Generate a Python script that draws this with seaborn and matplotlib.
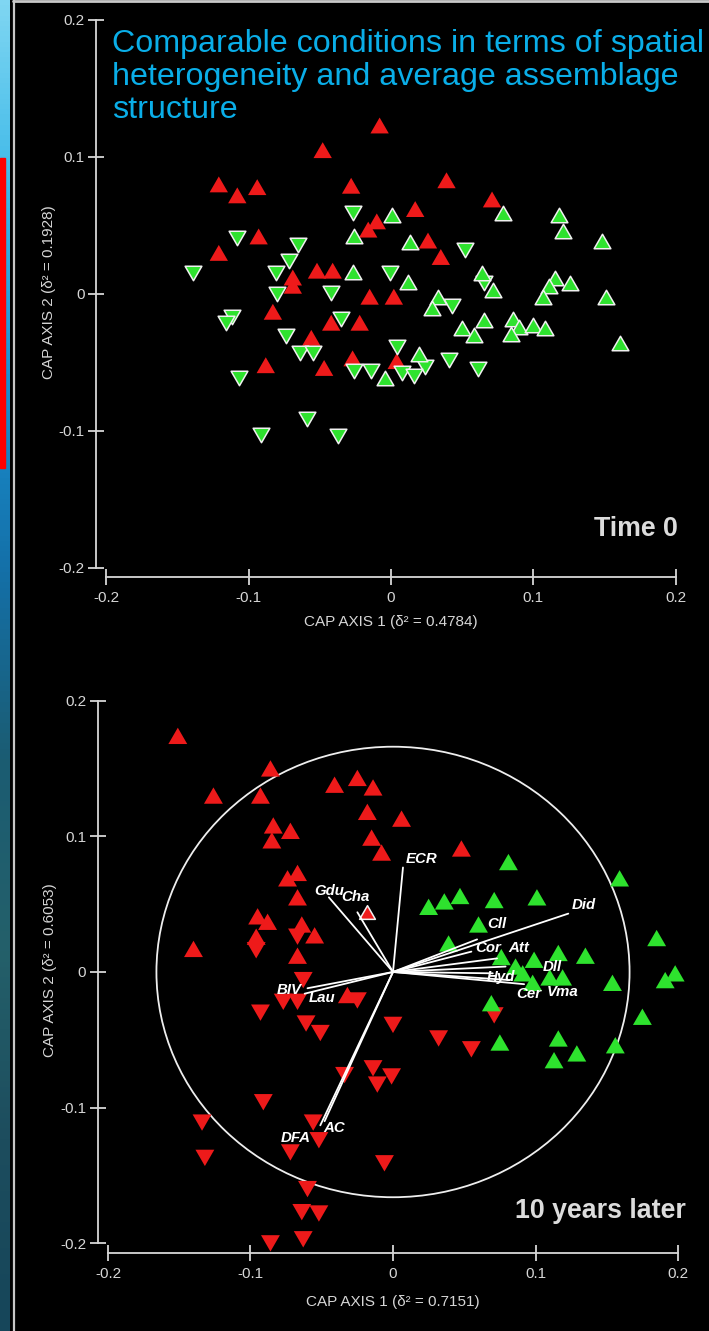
import numpy as np
import pandas as pd
import matplotlib
matplotlib.use("Agg")
import matplotlib.pyplot as plt
import seaborn as sns
from matplotlib.patches import Ellipse, Rectangle
from matplotlib.lines import Line2D
from matplotlib.path import Path
from matplotlib.colors import LinearSegmentedColormap

# ---------------- DATA ----------------
# Time 0 panel
t0_red_up_x = [-0.008, -0.048, -0.121, -0.108, -0.094, -0.028, 0.039, 0.017, 0.071, -0.010,
               -0.016, -0.093, 0.026, -0.121, 0.035, -0.052, -0.041, -0.069, -0.069, -0.015,
               0.002, -0.083, -0.042, -0.022, -0.056, -0.088, -0.047, -0.027, 0.004]
t0_red_up_y = [0.123, 0.105, 0.080, 0.072, 0.078, 0.079, 0.083, 0.062, 0.069, 0.053,
               0.047, 0.042, 0.039, 0.030, 0.027, 0.017, 0.017, 0.012, 0.006, -0.002,
               -0.002, -0.013, -0.021, -0.021, -0.032, -0.052, -0.054, -0.047, -0.049]

t0_green_down_x = [-0.027, -0.108, -0.065, -0.072, -0.139, -0.081, -0.001, -0.080, -0.042, -0.112,
                   -0.116, -0.035, -0.074, -0.064, -0.055, 0.004, -0.026, -0.014, -0.107, 0.024,
                   0.008, 0.016, 0.052, 0.065, 0.043, 0.041, 0.061, -0.059, -0.091, -0.037]
t0_green_down_y = [0.059, 0.041, 0.036, 0.024, 0.015, 0.015, 0.015, 0.000, 0.001, -0.017,
                   -0.021, -0.018, -0.031, -0.043, -0.043, -0.039, -0.056, -0.056, -0.061, -0.053,
                   -0.058, -0.060, 0.032, 0.008, -0.009, -0.048, -0.055, -0.091, -0.103, -0.104]

t0_green_up_x = [0.001, -0.026, 0.013, -0.027, 0.012, 0.033, 0.029, 0.020, -0.004, 0.079,
                 0.118, 0.121, 0.148, 0.064, 0.115, 0.126, 0.111, 0.072, 0.107, 0.151,
                 0.065, 0.086, 0.050, 0.058, 0.090, 0.100, 0.108, 0.084, 0.161]
t0_green_up_y = [0.058, 0.042, 0.038, 0.016, 0.009, -0.002, -0.010, -0.044, -0.061, 0.059,
                 0.058, 0.046, 0.039, 0.015, 0.012, 0.008, 0.006, 0.003, -0.002, -0.002,
                 -0.019, -0.018, -0.025, -0.030, -0.024, -0.023, -0.025, -0.029, -0.036]

# 10 years later panel
t10_red_up_x = [-0.151, -0.086, -0.126, -0.093, -0.041, -0.025, -0.014, -0.018, 0.006, -0.084,
                -0.072, -0.085, -0.015, -0.008, 0.048, -0.074, -0.067, -0.067, -0.095, -0.088,
                -0.064, -0.055, -0.140, -0.096, -0.067, -0.032]
t10_red_up_y = [0.174, 0.150, 0.130, 0.130, 0.138, 0.143, 0.136, 0.118, 0.113, 0.108,
                0.104, 0.097, 0.099, 0.088, 0.091, 0.069, 0.073, 0.055, 0.041, 0.037,
                0.035, 0.027, 0.017, 0.026, 0.012, -0.017]

t10_red_down_x = [-0.096, -0.067, -0.063, -0.077, -0.067, -0.025, -0.093, -0.061, -0.051, 0.000,
                  0.032, 0.055, 0.071, -0.034, -0.014, -0.001, -0.011, -0.091, -0.134, -0.056,
                  -0.052, -0.072, -0.132, -0.006, -0.060, -0.064, -0.052, -0.086, -0.063]
t10_red_down_y = [0.016, 0.026, -0.006, -0.022, -0.022, -0.021, -0.030, -0.038, -0.045, -0.039,
                  -0.049, -0.057, -0.032, -0.076, -0.071, -0.077, -0.083, -0.096, -0.111, -0.111,
                  -0.124, -0.133, -0.137, -0.141, -0.160, -0.177, -0.178, -0.200, -0.197]

t10_red_edge_x = [-0.018]
t10_red_edge_y = [0.044]

t10_green_up_x = [0.081, 0.159, 0.025, 0.036, 0.047, 0.071, 0.101, 0.060, 0.039, 0.076,
                  0.086, 0.091, 0.099, 0.116, 0.135, 0.110, 0.119, 0.098, 0.154, 0.185,
                  0.191, 0.198, 0.175, 0.069, 0.075, 0.116, 0.113, 0.129, 0.156]
t10_green_up_y = [0.081, 0.069, 0.048, 0.052, 0.056, 0.053, 0.055, 0.035, 0.021, 0.011,
                  0.004, -0.001, 0.009, 0.014, 0.012, -0.004, -0.004, -0.008, -0.008, 0.025,
                  -0.006, -0.001, -0.033, -0.023, -0.052, -0.049, -0.065, -0.060, -0.054]

# species vectors (10 years later)
vec_names = ["ECR", "Gdu", "Cha", "BIV", "Lau", "DFA", "AC", "Did",
             "Cll", "Cor", "Att", "Dll", "Hyd", "Cer", "Vma"]
vec_x = [0.007, -0.045, -0.025, -0.062, -0.060, -0.051, -0.048, 0.123,
         0.059, 0.055, 0.073, 0.079, 0.082, 0.092, 0.070]
vec_y = [0.077, 0.055, 0.044, -0.016, -0.012, -0.113, -0.110, 0.043,
         0.024, 0.015, 0.010, 0.004, -0.006, -0.009, -0.001]
vec_lab_x = [0.020, -0.045, -0.026, -0.073, -0.050, -0.068, -0.041, 0.134,
             0.073, 0.067, 0.088, 0.112, 0.076, 0.095, 0.119]
vec_lab_y = [0.083, 0.060, 0.055, -0.013, -0.019, -0.122, -0.115, 0.049,
             0.035, 0.018, 0.018, 0.004, -0.004, -0.016, -0.015]
circle_radius = 0.166

tick_vals = [-0.2, -0.1, 0, 0.1, 0.2]
tick_labels = ["-0.2", "-0.1", "0", "0.1", "0.2"]

title_lines = ["Comparable conditions in terms of spatial",
               "heterogeneity and average assemblage",
               "structure"]
t0_xlabel = "CAP AXIS 1 (δ² = 0.4784)"
t0_ylabel = "CAP AXIS 2 (δ² = 0.1928)"
t10_xlabel = "CAP AXIS 1 (δ² = 0.7151)"
t10_ylabel = "CAP AXIS 2 (δ² = 0.6053)"

# ---------------- STYLE ----------------
sns.set_style("dark")
plt.rcParams['font.family'] = ['Liberation Sans', 'DejaVu Sans']

W, H = 709, 1331
fig = plt.figure(figsize=(W / 100, H / 100), dpi=100, facecolor="black")

RED = "#ee1a1a"
GREEN = "#2ee22e"
AXC = "#d6d6d6"

tri_up = Path([(-1, -0.866), (1, -0.866), (0, 0.866), (-1, -0.866)],
              [Path.MOVETO, Path.LINETO, Path.LINETO, Path.CLOSEPOLY])
tri_down = Path([(-1, 0.866), (1, 0.866), (0, -0.866), (-1, 0.866)],
                [Path.MOVETO, Path.LINETO, Path.LINETO, Path.CLOSEPOLY])


def px_axes(left, top, right, bottom):
    return fig.add_axes([left / W, 1 - bottom / H, (right - left) / W, (bottom - top) / H])


def style(ax, xlab, ylab, xpad):
    ax.set_facecolor("black")
    ax.grid(False)
    for s in ["top", "right"]:
        ax.spines[s].set_visible(False)
    for s in ["left", "bottom"]:
        ax.spines[s].set_visible(True)
        ax.spines[s].set_color(AXC)
        ax.spines[s].set_linewidth(1.3)
        ax.spines[s].set_bounds(-0.2, 0.2)
    ax.set_xticks(tick_vals)
    ax.set_yticks(tick_vals)
    ax.set_xticklabels(tick_labels)
    ax.set_yticklabels(tick_labels)
    ax.tick_params(axis="both", which="major", bottom=True, left=True, top=False, right=False,
                   direction="inout", length=12, width=1.3, color=AXC,
                   labelcolor=AXC, labelsize=11)
    ax.tick_params(axis="y", pad=2.5)
    ax.tick_params(axis="x", pad=4)
    ax.set_xlabel(xlab, color=AXC, fontsize=11, labelpad=xpad)
    ax.set_ylabel(ylab, color=AXC, fontsize=11, labelpad=2)


def scat(ax, x, y, marker, color, edge=None, s=150, z=3):
    df = pd.DataFrame({"x": x, "y": y})
    sns.scatterplot(data=df, x="x", y="y", ax=ax, marker=marker, color=color,
                    s=s, edgecolor=edge if edge else "none",
                    linewidth=1.1 if edge else 0, zorder=z, legend=False)


# ---- Top panel ----
ax1 = px_axes(96.4, 6.3, 685.6, 577)
ax1.set_xlim(-0.207, 0.207)
ax1.set_ylim(-0.2066, 0.21)
scat(ax1, t0_red_up_x, t0_red_up_y, tri_up, RED, s=175)
scat(ax1, t0_green_down_x, t0_green_down_y, tri_down, GREEN, edge="#f0f0f0", s=145)
scat(ax1, t0_green_up_x, t0_green_up_y, tri_up, GREEN, edge="#f0f0f0", s=145)
style(ax1, t0_xlabel, t0_ylabel, 7)
ax1.text(0.2015, -0.1765, "Time 0", color="#dcdcdc", fontsize=19.3, fontweight="bold",
         ha="right", va="baseline")

# ---- Bottom panel ----
ax2 = px_axes(98, 687, 688, 1253)
ax2.set_xlim(-0.207, 0.207)
ax2.set_ylim(-0.2071, 0.21)
ax2.add_patch(Ellipse((0, 0), 2 * circle_radius, 2 * circle_radius, fill=False,
                      edgecolor="#eeeeee", linewidth=1.3, zorder=2))
scat(ax2, t10_red_up_x, t10_red_up_y, tri_up, RED, s=185)
scat(ax2, t10_red_down_x, t10_red_down_y, tri_down, RED, s=185)
scat(ax2, t10_green_up_x, t10_green_up_y, tri_up, GREEN, s=185)
scat(ax2, t10_red_edge_x, t10_red_edge_y, tri_up, RED, edge="#f0f0f0", s=130)
for vx, vy in zip(vec_x, vec_y):
    ax2.plot([0, vx], [0, vy], color="white", linewidth=1.3, zorder=4)
for name, lx, ly in zip(vec_names, vec_lab_x, vec_lab_y):
    ax2.text(lx, ly, name, color="white", fontsize=10.8, fontweight="bold",
             fontstyle="italic", ha="center", va="center", zorder=5)
style(ax2, t10_xlabel, t10_ylabel, 10)
ax2.text(0.2055, -0.1815, "10 years later", color="#dcdcdc", fontsize=19.3,
         fontweight="bold", ha="right", va="baseline")

# ---- Title ----
for i, line in enumerate(title_lines):
    fig.text(112 / W, 1 - (52 + 33 * i) / H, line, color="#0aaee8", fontsize=23.25,
             ha="left", va="baseline")

# ---- Left decorative strip / borders ----
strip = fig.add_axes([0, 0, 10 / W, 1])
strip.axis("off")
cmap = LinearSegmentedColormap.from_list("sea", ["#7fd6f2", "#3cb8e8", "#1a8fd0",
                                                  "#1470a8", "#1b5c72", "#24606a",
                                                  "#1d4d5e", "#16465a"])
grad = np.linspace(0, 1, 256).reshape(-1, 1)
strip.imshow(grad, aspect="auto", cmap=cmap, extent=[0, 1, 0, 1], origin="upper")
strip.set_xlim(0, 1)
strip.set_ylim(0, 1)
fig.patches.append(Rectangle((0, 1 - 468 / H), 5 / W, (468 - 158) / H,
                             transform=fig.transFigure, color="#ff0000", zorder=10))
fig.lines.append(Line2D([13.5 / W, 13.5 / W], [0, 1], transform=fig.transFigure,
                        color="#c8c8c8", linewidth=1.6))
fig.lines.append(Line2D([13 / W, 1], [1 - 1 / H, 1 - 1 / H], transform=fig.transFigure,
                        color="#c8c8c8", linewidth=2))

fig.savefig("out.png", dpi=100, facecolor="black")
